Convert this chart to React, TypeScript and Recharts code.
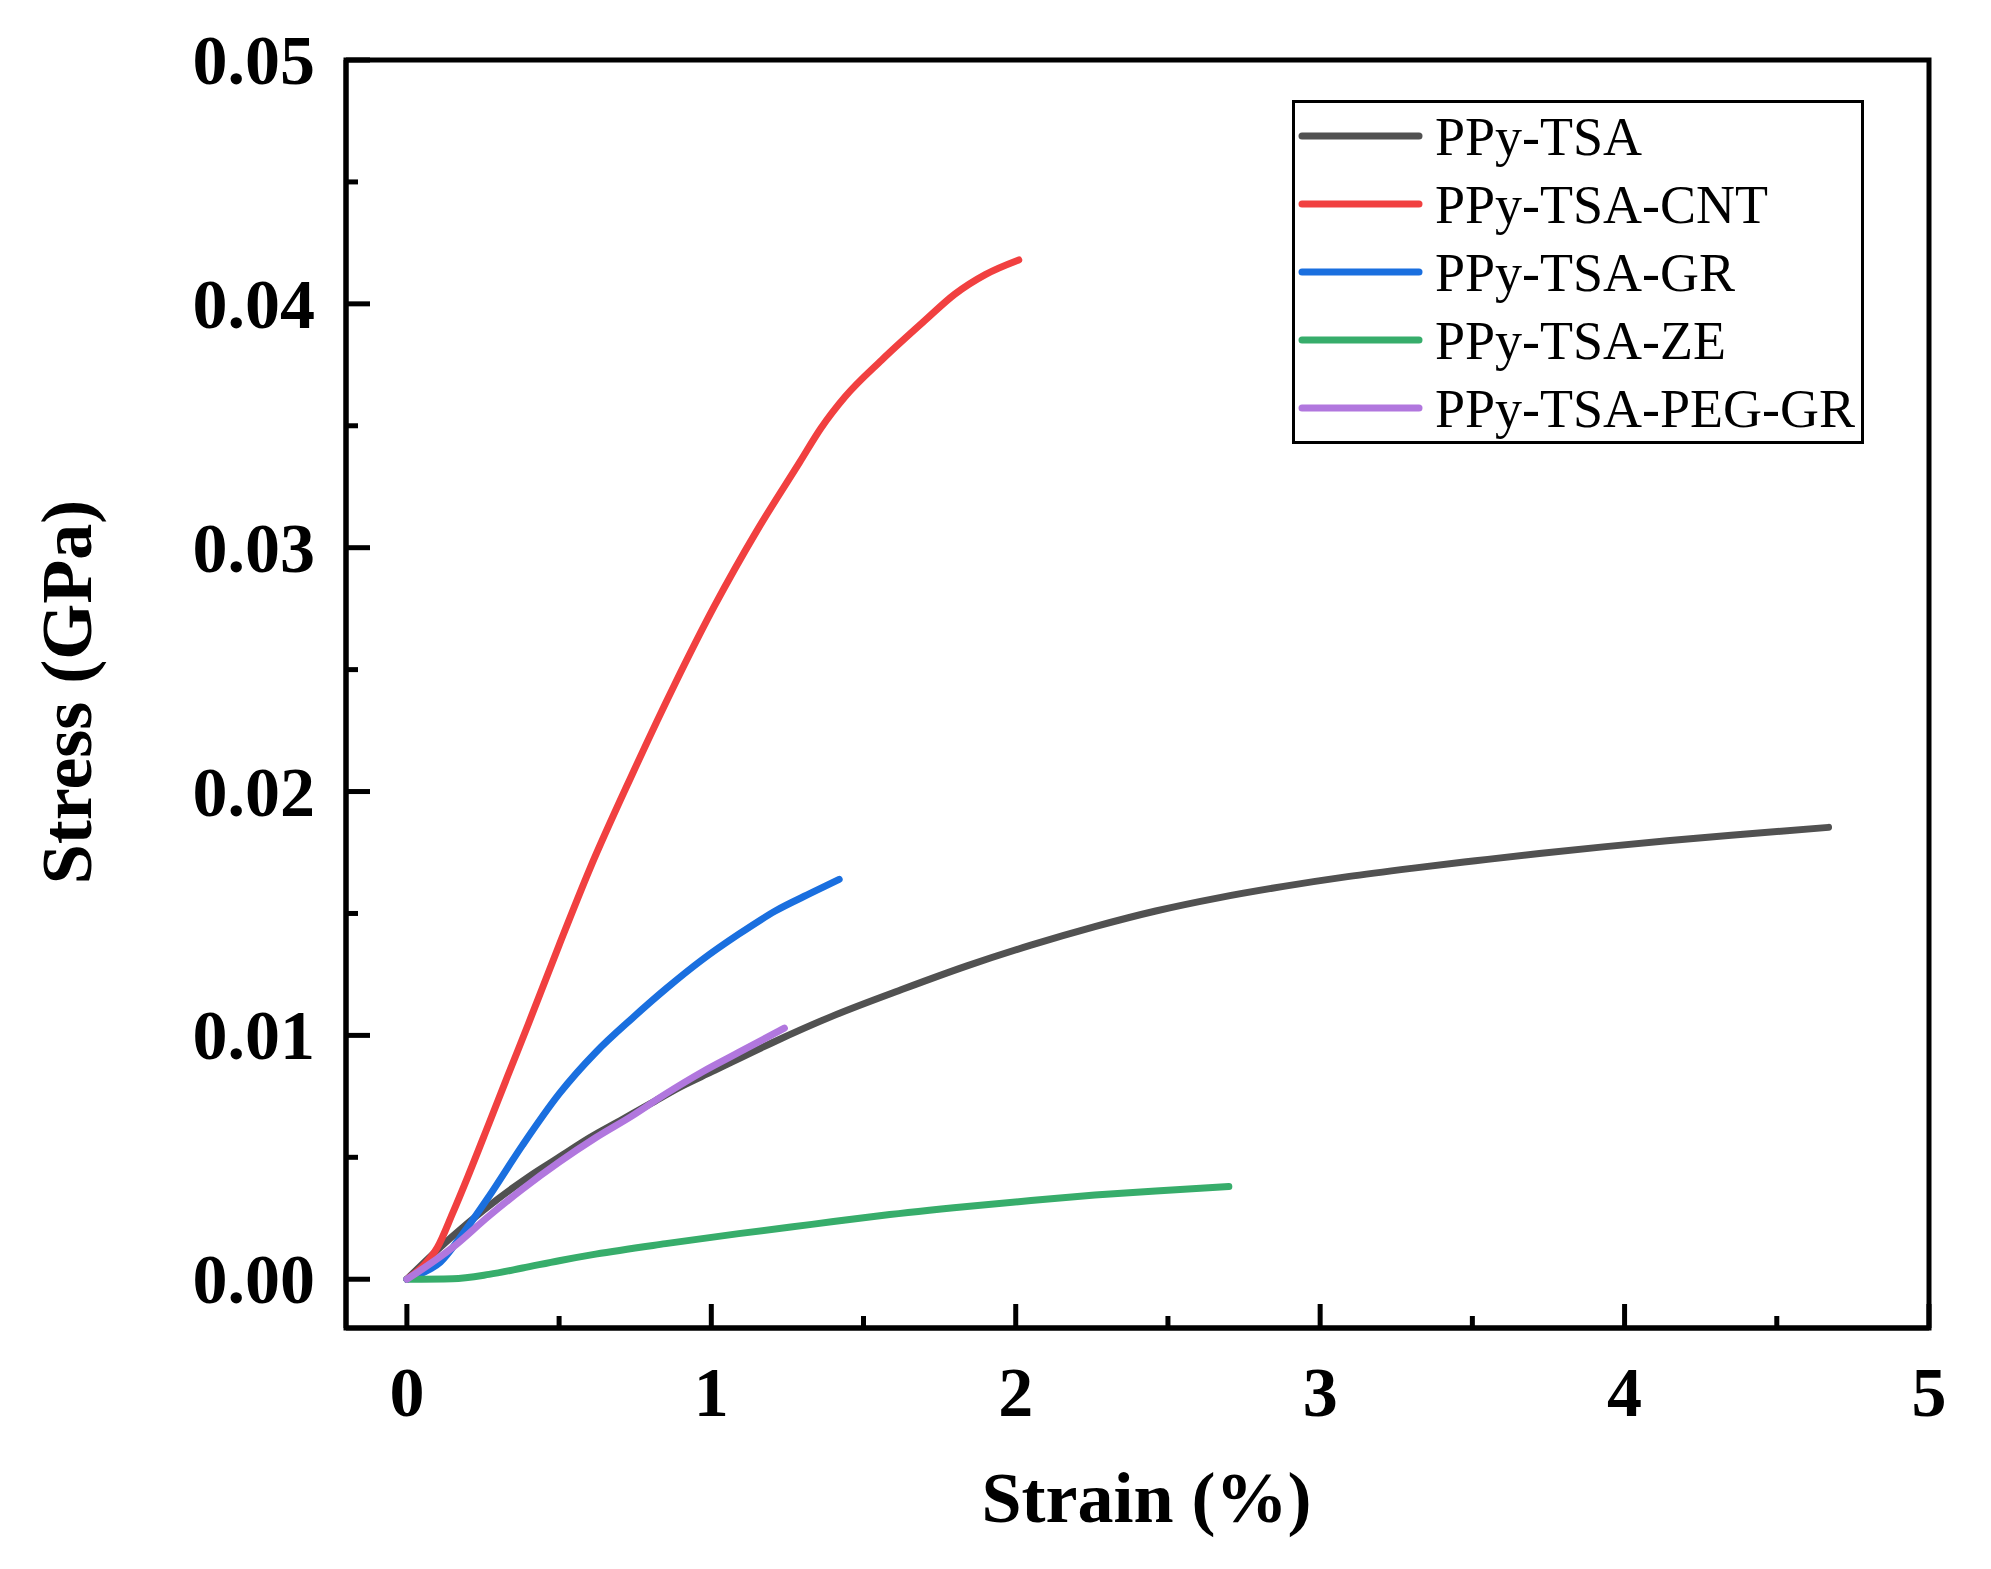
import React from 'react';
import {
  LineChart,
  Line,
  XAxis,
  YAxis,
  Legend,
  ReferenceArea,
} from 'recharts';

// strain (%) / stress (GPa)
const tsaStrain = [0, 0.1, 0.2, 0.3, 0.4, 0.5, 0.6, 0.7, 0.8, 0.9, 1.0, 1.2, 1.4, 1.63, 1.84, 2.05, 2.26, 2.46, 2.67, 2.88, 3.09, 3.3, 3.51, 3.72, 3.93, 4.14, 4.35, 4.67];
const tsaStress = [0, 0.0012, 0.0023, 0.0033, 0.0042, 0.005, 0.0058, 0.0065, 0.0072, 0.0079, 0.0085, 0.0097, 0.0108, 0.0119, 0.01285, 0.0137, 0.01446, 0.0151, 0.01565, 0.01611, 0.01651, 0.01685, 0.01716, 0.01746, 0.01773, 0.01798, 0.01821, 0.01853];

const cntStrain = [0, 0.05, 0.1, 0.15, 0.2, 0.27, 0.33, 0.4, 0.5, 0.6, 0.74, 0.88, 1.01, 1.15, 1.29, 1.36, 1.44, 1.56, 1.7, 1.8, 1.9, 2.01];
const cntStress = [0, 0.0005, 0.0013, 0.0027, 0.0042, 0.0064, 0.0083, 0.0105, 0.0137, 0.0168, 0.0207, 0.0244, 0.0276, 0.0307, 0.0335, 0.0349, 0.0362, 0.0377, 0.0393, 0.0404, 0.0412, 0.0418];

const grStrain = [0, 0.05, 0.11, 0.18, 0.27, 0.38, 0.5, 0.62, 0.74, 0.85, 0.97, 1.09, 1.21, 1.33, 1.42];
const grStress = [0, 0.00025, 0.0007, 0.0018, 0.0034, 0.0055, 0.0076, 0.0093, 0.0107, 0.0119, 0.0131, 0.01415, 0.0151, 0.01585, 0.0164];

const zeStrain = [0, 0.15, 0.27, 0.38, 0.5, 0.62, 0.85, 1.09, 1.33, 1.56, 1.84, 2.05, 2.26, 2.46, 2.7];
const zeStress = [0, 0.00002, 0.0002, 0.00046, 0.00076, 0.00103, 0.00146, 0.00187, 0.00225, 0.00261, 0.00298, 0.00323, 0.00345, 0.00362, 0.0038];

const pegStrain = [0, 0.15, 0.27, 0.38, 0.5, 0.62, 0.74, 0.85, 0.97, 1.09, 1.24];
const pegStress = [0, 0.0013, 0.0026, 0.0037, 0.0048, 0.0058, 0.0067, 0.0076, 0.0085, 0.0093, 0.0103];

const seriesNames = ['PPy-TSA', 'PPy-TSA-CNT', 'PPy-TSA-GR', 'PPy-TSA-ZE', 'PPy-TSA-PEG-GR'];
const seriesColors = ['#515151', '#F14040', '#1A6FDF', '#37AD6B', '#B177DE'];

const xMajorTicks = [0, 1, 2, 3, 4, 5];
const xMinorTicks = [0.5, 1.5, 2.5, 3.5, 4.5];
const yMajorTicks = [0, 0.01, 0.02, 0.03, 0.04, 0.05];
const yMinorTicks = [0.005, 0.015, 0.025, 0.035, 0.045];

const zip = (xs: number[], ys: number[]) => xs.map((x, i) => ({ x, y: ys[i] }));

const series = [
  zip(tsaStrain, tsaStress),
  zip(cntStrain, cntStress),
  zip(grStrain, grStress),
  zip(zeStrain, zeStress),
  zip(pegStrain, pegStress),
];

const FONT = '"Liberation Serif", "Times New Roman", serif';

const isMajor = (v: number, list: number[]) => list.some((m) => Math.abs(m - v) < 1e-9);

const XTick = (props: any) => {
  const { x, y, payload } = props;
  const major = isMajor(payload.value, xMajorTicks);
  return (
    <g>
      <line x1={x} x2={x} y1={y} y2={y - (major ? 24 : 12)} stroke="#000" strokeWidth={5} />
      {major && (
        <text x={x} y={y + 88} textAnchor="middle" fontFamily={FONT} fontWeight="bold" fontSize={70} fill="#000">
          {payload.value}
        </text>
      )}
    </g>
  );
};

const YTick = (props: any) => {
  const { x, y, payload } = props;
  const major = isMajor(payload.value, yMajorTicks);
  return (
    <g>
      <line x1={x} x2={x + (major ? 24 : 12)} y1={y} y2={y} stroke="#000" strokeWidth={5} />
      {major && (
        <text x={x - 31} y={y + 24} textAnchor="end" fontFamily={FONT} fontWeight="bold" fontSize={70} fill="#000">
          {payload.value.toFixed(2)}
        </text>
      )}
    </g>
  );
};

const LegendBox = (props: any) => {
  const items = [...(props.payload || [])].sort(
    (a: any, b: any) => seriesNames.indexOf(a.value) - seriesNames.indexOf(b.value)
  );
  return (
    <svg width={572} height={344} style={{ display: 'block' }}>
      <rect x={1.5} y={1.5} width={569} height={341} fill="#fff" stroke="#000" strokeWidth={3} />
      {items.map((entry: any, i: number) => {
        const cy = 36 + i * 68;
        return (
          <g key={entry.value}>
            <line x1={10} x2={127} y1={cy} y2={cy} stroke={entry.color} strokeWidth={7} strokeLinecap="round" />
            <text x={143} y={cy + 19} fontFamily={FONT} fontSize={54} fill="#000">
              {entry.value}
            </text>
          </g>
        );
      })}
    </svg>
  );
};

export default function App() {
  return (
    <div style={{ position: 'absolute', left: 0, top: 0, width: 1991, height: 1569, background: '#fff' }}>
      <LineChart width={1991} height={1569} margin={{ top: 60, right: 62, bottom: 0, left: 0 }}>
        <XAxis
          type="number"
          dataKey="x"
          domain={[-0.2, 5]}
          ticks={[...xMajorTicks, ...xMinorTicks].sort((a, b) => a - b)}
          interval={0}
          height={241}
          tickSize={0}
          tickMargin={0}
          tickLine={false}
          tick={<XTick />}
          axisLine={{ stroke: '#000', strokeWidth: 5 }}
          allowDataOverflow
          label={{
            content: (p: any) => {
              const vb = p.viewBox || {};
              return (
                <text
                  x={vb.x + vb.width / 2 + 9}
                  y={vb.y + 194}
                  textAnchor="middle"
                  fontFamily={FONT}
                  fontWeight="bold"
                  fontSize={72}
                  fill="#000"
                >
                  Strain (%)
                </text>
              );
            },
          }}
        />
        <YAxis
          type="number"
          domain={[-0.002, 0.05]}
          ticks={[...yMajorTicks, ...yMinorTicks].sort((a, b) => a - b)}
          interval={0}
          width={346}
          tickSize={0}
          tickMargin={0}
          tickLine={false}
          tick={<YTick />}
          axisLine={{ stroke: '#000', strokeWidth: 5 }}
          allowDataOverflow
          label={{
            content: (p: any) => {
              const vb = p.viewBox || {};
              const cy = vb.y + vb.height / 2 - 2;
              return (
                <text
                  x={91}
                  y={cy}
                  transform={`rotate(-90 91 ${cy})`}
                  textAnchor="middle"
                  fontFamily={FONT}
                  fontWeight="bold"
                  fontSize={72}
                  fill="#000"
                >
                  Stress (GPa)
                </text>
              );
            },
          }}
        />
        <ReferenceArea x1={-0.2} x2={5} y1={-0.002} y2={0.05} fill="none" stroke="#000" strokeWidth={5} />
        {series.map((d, i) => (
          <Line
            key={seriesNames[i]}
            data={d}
            dataKey="y"
            name={seriesNames[i]}
            type="monotone"
            stroke={seriesColors[i]}
            strokeWidth={7}
            strokeLinecap="round"
            dot={false}
            activeDot={false}
            isAnimationActive={false}
          />
        ))}
        <Legend
          layout="horizontal"
          align="center"
          verticalAlign="middle"
          content={<LegendBox />}
          wrapperStyle={{ position: 'absolute', left: 1292, top: 100, width: 572, height: 344 }}
        />
      </LineChart>
    </div>
  );
}
